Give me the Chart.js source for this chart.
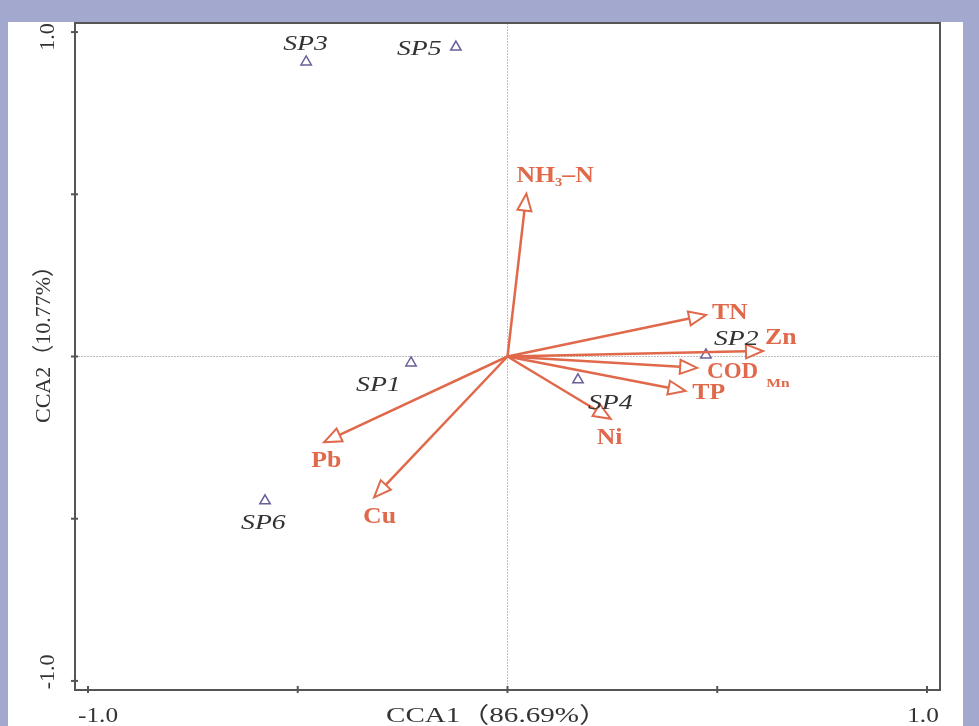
<!DOCTYPE html>
<html>
<head>
<meta charset="utf-8">
<script src="https://cdn.jsdelivr.net/npm/chart.js@4.4.1/dist/chart.umd.min.js"></script>
<style>
  html, body { margin: 0; padding: 0; background: #a3a8ce; }
  #wrap { width: 979px; height: 726px; }
</style>
</head>
<body>
<div id="wrap"><canvas id="myChart" width="979" height="726"></canvas></div>
<script>
//******** Data ********
// sampling sites (triangles)
const siteNames = ['SP1', 'SP2', 'SP3', 'SP4', 'SP5', 'SP6'];
const siteX = [-0.230, 0.473, -0.480, 0.168, -0.123, -0.578];
const siteY = [-0.020, 0.005, 0.908, -0.072, 0.954, -0.445];

// environmental factors (arrows)
const envNames = ['NH3-N', 'TN', 'Zn', 'CODMn', 'TP', 'Ni', 'Pb', 'Cu'];
const envX = [0.045, 0.473, 0.609, 0.452, 0.424, 0.246, -0.437, -0.318];
const envY = [0.502, 0.128, 0.017, -0.035, -0.106, -0.192, -0.264, -0.434];

const tickValues = [-1, -0.5, 0, 0.5, 1];
const tickLabels = ['-1.0', '', '', '', '1.0'];
const xTitle = 'CCA1（86.69%）';
const yTitle = 'CCA2（10.77%）';

//******** Styles (label offsets in px) ********
const arrowColor = '#e0694b';
const envLabelOffset = {
  'NH3-N': [-10, -18], 'TN': [6, -2], 'Zn': [2, -13], 'CODMn': [10, 4],
  'TP': [7, 2], 'Ni': [-14, 19], 'Pb': [-13, 19], 'Cu': [-11, 20]
};
const siteLabelOffset = {
  'SP1': [-55, 22], 'SP2': [8, -15], 'SP3': [-23, -17],
  'SP4': [10, 24], 'SP5': [-59, 2], 'SP6': [-24, 23]
};

const sitePoints = siteNames.map((n, i) => ({ x: siteX[i], y: siteY[i] }));

// text drawn a bit wider than the font, like the picture
function wideText(c, txt, x, y, k) {
  c.save();
  c.translate(x, y);
  c.scale(k, 1);
  c.fillText(txt, 0, 0);
  c.restore();
  return c.measureText(txt).width * k;
}

const biplot = {
  id: 'biplot',
  beforeDraw(chart) {
    const c = chart.ctx;
    const a = chart.chartArea;
    const sx = chart.scales.x, sy = chart.scales.y;
    c.save();
    // white panel
    c.fillStyle = '#ffffff';
    c.fillRect(8, 22, 955, 704);
    // zero lines
    c.strokeStyle = '#bdbdbd';
    c.lineWidth = 1;
    c.setLineDash([2, 1]);
    c.beginPath();
    c.moveTo(sx.getPixelForValue(0), a.top);
    c.lineTo(sx.getPixelForValue(0), a.bottom);
    c.moveTo(a.left, sy.getPixelForValue(0));
    c.lineTo(a.right, sy.getPixelForValue(0));
    c.stroke();
    c.setLineDash([]);
    // frame
    c.strokeStyle = '#555555';
    c.lineWidth = 2;
    c.strokeRect(a.left, a.top, a.right - a.left, a.bottom - a.top);
    // ticks
    tickValues.forEach(v => {
      const px = sx.getPixelForValue(v);
      c.beginPath(); c.moveTo(px, a.bottom - 4); c.lineTo(px, a.bottom + 3); c.stroke();
      const py = sy.getPixelForValue(v);
      c.beginPath(); c.moveTo(a.left - 4, py); c.lineTo(a.left + 3, py); c.stroke();
    });
    // tick labels
    c.fillStyle = '#333333';
    c.font = '22px "Liberation Serif"';
    c.textBaseline = 'middle';
    c.textAlign = 'center';
    tickValues.forEach((v, i) => {
      if (!tickLabels[i]) return;
      const px = sx.getPixelForValue(v);
      wideText(c, tickLabels[i], px + (v < 0 ? 10 : -4), 716, 1.15);
      const py = sy.getPixelForValue(v);
      c.save();
      c.translate(48, py + (v < 0 ? -9 : 5));
      c.rotate(-Math.PI / 2);
      c.fillText(tickLabels[i], 0, 0);
      c.restore();
    });
    // axis titles
    c.font = '22px "Liberation Serif", "Noto Sans CJK SC"';
    wideText(c, xTitle, 497, 716, 1.32);
    c.save();
    c.translate(44, 339);
    c.rotate(-Math.PI / 2);
    c.fillText(yTitle, 0, 0);
    c.restore();
    c.restore();
  },
  afterDatasetsDraw(chart) {
    const c = chart.ctx;
    const sx = chart.scales.x, sy = chart.scales.y;
    const ox = sx.getPixelForValue(0), oy = sy.getPixelForValue(0);
    c.save();
    // arrows
    envNames.forEach((name, i) => {
      const tx = sx.getPixelForValue(envX[i]);
      const ty = sy.getPixelForValue(envY[i]);
      const ang = Math.atan2(ty - oy, tx - ox);
      const hl = 17, hw = 7;
      const bx = tx - hl * Math.cos(ang), by = ty - hl * Math.sin(ang);
      c.strokeStyle = arrowColor;
      c.lineWidth = 2.5;
      c.beginPath();
      c.moveTo(ox, oy);
      c.lineTo(bx, by);
      c.stroke();
      c.beginPath();
      c.moveTo(tx, ty);
      c.lineTo(bx + hw * Math.sin(ang), by - hw * Math.cos(ang));
      c.lineTo(bx - hw * Math.sin(ang), by + hw * Math.cos(ang));
      c.closePath();
      c.fillStyle = '#ffffff';
      c.fill();
      c.lineWidth = 2;
      c.stroke();

      // labels
      const off = envLabelOffset[name];
      const lx = tx + off[0], ly = ty + off[1];
      const k = 1.12;
      c.fillStyle = arrowColor;
      c.textAlign = 'left';
      c.textBaseline = 'middle';
      c.font = 'bold 23px "Liberation Serif"';
      if (name === 'NH3-N') {
        let w = wideText(c, 'NH', lx, ly, k);
        c.font = 'bold 13px "Liberation Serif"';
        w += wideText(c, '3', lx + w, ly + 7, k);
        c.font = 'bold 23px "Liberation Serif"';
        wideText(c, '–N', lx + w, ly, k);
      } else if (name === 'CODMn') {
        const w = wideText(c, 'COD', lx, ly, 1.0);
        c.font = 'bold 13px "Liberation Serif"';
        wideText(c, 'Mn', lx + w + 8, ly + 12, 1.2);
      } else {
        wideText(c, name, lx, ly, k);
      }
    });
    // site labels
    c.fillStyle = '#333333';
    c.font = 'italic 21px "Liberation Serif"';
    c.textAlign = 'left';
    c.textBaseline = 'middle';
    siteNames.forEach((name, i) => {
      const off = siteLabelOffset[name];
      wideText(c, name, sx.getPixelForValue(siteX[i]) + off[0], sy.getPixelForValue(siteY[i]) + off[1], 1.32);
    });
    c.restore();
  }
};

const ctx = document.getElementById('myChart').getContext('2d');
const myChart = new Chart(ctx, {
  type: 'scatter',
  data: {
    datasets: [{
      label: 'Sites',
      data: sitePoints,
      pointStyle: 'triangle',
      pointRadius: 6,
      pointBorderWidth: 1.5,
      pointBackgroundColor: '#ffffff',
      pointBorderColor: '#6b5e99'
    }]
  },
  options: {
    responsive: false,
    animation: false,
    devicePixelRatio: 1,
    layout: { padding: { left: 75, right: 39, top: 23, bottom: 36 } },
    plugins: { legend: { display: false }, tooltip: { enabled: false } },
    scales: {
      x: { display: false, min: -1.031, max: 1.031 },
      y: { display: false, min: -1.028, max: 1.028 }
    }
  },
  plugins: [biplot]
});
</script>
</body>
</html>
